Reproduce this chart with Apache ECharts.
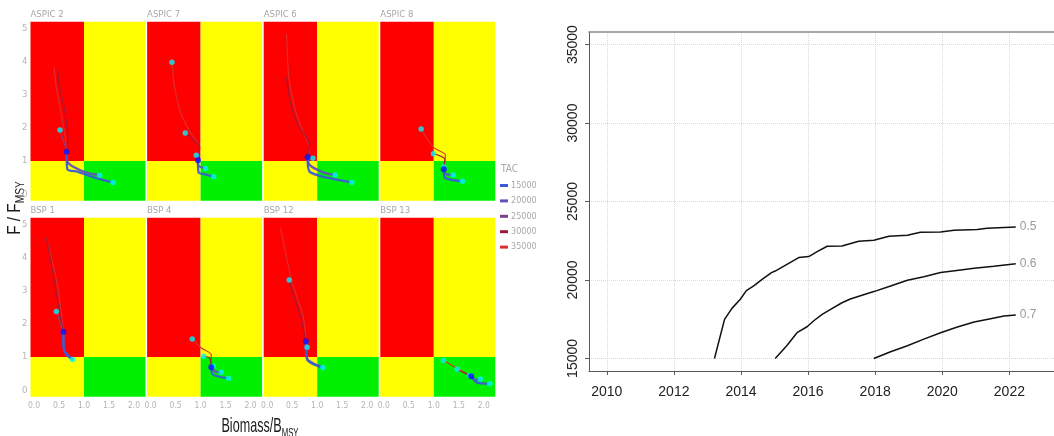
<!DOCTYPE html>
<html>
<head>
<meta charset="utf-8">
<script src="https://cdn.jsdelivr.net/npm/echarts@6/dist/echarts.min.js"></script>
<style>
html,body{margin:0;padding:0;background:#fff}
#chart{width:1054px;height:436px}
</style>
</head>
<body>
<div id="chart"></div>
<script>
// ---- Kobe panels: stock status (B/Bmsy, F/Fmsy) under alternative TACs ----
const panelNames = ['ASPIC 2', 'ASPIC 7', 'ASPIC 6', 'ASPIC 8', 'BSP 1', 'BSP 4', 'BSP 12', 'BSP 13'];
const tacLevels = [15000, 20000, 25000, 30000, 35000];
const tacColors = ['#3b5bd6', '#6152b8', '#7e408c', '#a01838', '#dc2e2e'];
const bTicks = [0, 0.5, 1, 1.5, 2];
const fTicks = [0, 1, 2, 3, 4, 5];

// current status of each model run
const currentStatus = [
  [0.653, 1.28], [0.947, 1.02], [0.807, 1.12], [1.2, 0.75],
  [0.587, 1.76], [1.213, 0.69], [0.773, 1.47], [1.747, 0.416]
];

// projected paths from the current status, one per TAC level (15000 ... 35000)
const pathsAspic2 = [
  [[0.667, 0.75], [0.88, 0.67], [1.213, 0.495], [1.58, 0.35]],
  [[0.667, 0.98], [0.813, 0.8], [1.047, 0.65], [1.313, 0.57]],
  [[0.6, 1.56], [0.52, 1.93]],
  [[0.68, 1.71], [0.613, 2.52], [0.513, 3.22], [0.467, 3.75]],
  [[0.627, 1.71], [0.533, 2.52], [0.447, 3.22], [0.4, 3.83]]
];
const pathsAspic7 = [
  [[0.96, 0.65], [1.08, 0.6], [1.26, 0.52]],
  [[0.96, 0.85], [1.1, 0.77]],
  [[0.913, 1.17]],
  [[0.98, 1.4], [0.813, 1.71], [0.693, 1.84]],
  [[0.98, 1.4], [0.813, 1.81], [0.613, 2.41], [0.48, 3.22], [0.427, 3.98]]
];
const pathsAspic6 = [
  [[0.847, 0.677], [1.2, 0.495], [1.693, 0.354]],
  [[0.847, 0.88], [1.133, 0.646], [1.36, 0.576]],
  [[0.913, 1.08]],
  [[0.847, 1.505], [0.647, 2.01], [0.467, 2.72], [0.387, 3.53]],
  [[0.853, 1.4], [0.733, 1.81], [0.567, 2.52], [0.433, 3.53], [0.387, 4.84]]
];
const pathsAspic8 = [
  [[1.22, 0.495], [1.573, 0.384]],
  [[1.233, 0.616], [1.387, 0.576]],
  [[1.2, 0.82]],
  [[1.22, 1.05], [0.993, 1.22]],
  [[1.233, 1.18], [1.0, 1.4], [0.747, 1.96]]
];
const pathsBsp1 = [
  [[0.593, 1.27], [0.647, 1.07], [0.773, 0.92]],
  [[0.6, 1.22], [0.713, 1.0], [0.74, 0.96]],
  [[0.447, 2.37]],
  [[0.513, 2.33], [0.38, 3.54], [0.247, 4.6]],
  [[0.547, 2.33], [0.447, 3.34], [0.247, 4.6]]
];
const pathsBsp4 = [
  [[1.247, 0.466], [1.56, 0.355]],
  [[1.28, 0.567], [1.413, 0.537]],
  [[1.253, 0.72]],
  [[1.18, 0.97], [1.06, 1.02]],
  [[1.213, 1.07], [1.013, 1.27], [0.833, 1.54]]
];
const pathsBsp12 = [
  [[0.8, 0.92], [0.933, 0.77], [1.113, 0.68]],
  [[0.8, 0.94], [0.967, 0.77], [1.067, 0.72]],
  [[0.8, 1.29]],
  [[0.667, 2.23], [0.533, 2.83], [0.44, 3.32]],
  [[0.72, 2.23], [0.5, 3.24], [0.267, 4.9]]
];
const pathsBsp13 = [
  [[1.867, 0.225], [2.12, 0.194]],
  [[1.833, 0.315], [1.933, 0.315]],
  [[1.713, 0.44]],
  [[1.6, 0.527], [1.467, 0.607]],
  [[1.533, 0.597], [1.193, 0.889]]
];
const panelPaths = [pathsAspic2, pathsAspic7, pathsAspic6, pathsAspic8, pathsBsp1, pathsBsp4, pathsBsp12, pathsBsp13];

// end-of-projection markers
const endMarks = [
  [[0.52, 1.93], [1.313, 0.57], [1.58, 0.35]],
  [[0.427, 3.98], [0.693, 1.84], [0.913, 1.17], [1.1, 0.77], [1.26, 0.52]],
  [[0.913, 1.08], [1.36, 0.576], [1.693, 0.354]],
  [[0.747, 1.96], [0.993, 1.22], [1.2, 0.82], [1.387, 0.576], [1.573, 0.384]],
  [[0.447, 2.37], [0.773, 0.92]],
  [[0.833, 1.54], [1.06, 1.02], [1.253, 0.72], [1.413, 0.537], [1.56, 0.355]],
  [[0.44, 3.32], [0.8, 1.29], [1.113, 0.68]],
  [[1.193, 0.889], [1.467, 0.627], [1.713, 0.44], [1.933, 0.335], [2.12, 0.194]]
];

// ---- TAC needed to reach target probability by year ----
const yearTicks = [2010, 2012, 2014, 2016, 2018, 2020, 2022];
const tacTicks = [15000, 20000, 25000, 30000, 35000];
const probNames = ['0.5', '0.6', '0.7'];
const years05 = [2013.21, 2013.51, 2013.73, 2013.98, 2014.16, 2014.38, 2014.63, 2014.91, 2015.02, 2015.37, 2015.72, 2016.02, 2016.27, 2016.57, 2017.01, 2017.51, 2017.96, 2018.41, 2018.96, 2019.35, 2019.95, 2020.35, 2021.04, 2021.34, 2022.19];
const tac05 = [15000, 17490, 18190, 18770, 19320, 19620, 20040, 20470, 20570, 21000, 21430, 21490, 21810, 22150, 22170, 22470, 22530, 22790, 22850, 23040, 23060, 23170, 23210, 23300, 23380];
const years06 = [2015.02, 2015.37, 2015.67, 2015.97, 2016.17, 2016.42, 2016.67, 2017.01, 2017.26, 2017.56, 2017.96, 2018.46, 2018.96, 2019.45, 2019.95, 2020.55, 2020.95, 2021.54, 2022.19];
const tac06 = [15000, 15830, 16640, 17020, 17400, 17810, 18130, 18550, 18790, 19000, 19260, 19620, 19980, 20210, 20470, 20640, 20750, 20870, 21040];
const years07 = [2017.96, 2018.46, 2018.96, 2019.45, 2019.95, 2020.45, 2020.95, 2021.44, 2021.84, 2022.19];
const tac07 = [15000, 15430, 15810, 16230, 16640, 17000, 17320, 17530, 17700, 17770];

// ---- layout and styling ----
const narrow = "'DejaVu Sans Condensed', 'Liberation Sans Narrow', 'Liberation Sans', sans-serif";
const plain = "'Liberation Sans', Arial, sans-serif";
const zoneColors = ['#ff0000', '#ffff00', '#00f000'];
const bRange = [-0.07, 2.23];
const fRange = [-0.2, 5.2];
const panelLefts = [30.5, 147.1, 263.7, 380.3];
const panelTops = [21.7, 217.7];
const panelW = 115, panelH = 179;

const grids = [], xAxes = [], yAxes = [], series = [], titles = [];

panelNames.forEach((name, i) => {
  const col = i % 4, row = Math.floor(i / 4);
  grids.push({ left: panelLefts[col], top: panelTops[row], width: panelW, height: panelH });
  xAxes.push({
    gridIndex: i, type: 'value', min: bRange[0], max: bRange[1],
    axisLine: { show: false }, axisTick: { show: false }, splitLine: { show: false },
    axisLabel: {
      show: row === 1, customValues: bTicks, formatter: v => v.toFixed(1),
      color: '#b4b4b4', fontSize: 8.5, fontFamily: narrow, margin: 5
    }
  });
  yAxes.push({
    gridIndex: i, type: 'value', min: fRange[0], max: fRange[1],
    axisLine: { show: false }, axisTick: { show: false }, splitLine: { show: false },
    axisLabel: {
      show: col === 0, customValues: fTicks,
      color: '#b4b4b4', fontSize: 9.5, fontFamily: narrow, margin: 3
    }
  });
  titles.push({
    text: name, left: panelLefts[col], top: row === 0 ? 10 : 206, padding: 0,
    textStyle: { color: '#a8a8a8', fontSize: 9.5, fontWeight: 'normal', fontFamily: narrow }
  });

  // Kobe quadrants: overfished+overfishing, yellow, yellow, healthy
  series.push({
    type: 'custom', xAxisIndex: i, yAxisIndex: i, silent: true, z: 1,
    data: [
      [bRange[0], 1, 1, fRange[1], 0],
      [1, 1, bRange[1], fRange[1], 1],
      [bRange[0], fRange[0], 1, 1, 1],
      [1, fRange[0], bRange[1], 1, 2]
    ],
    encode: { x: [0, 2], y: [1, 3] },
    renderItem: (params, api) => {
      const p0 = api.coord([api.value(0), api.value(1)]);
      const p1 = api.coord([api.value(2), api.value(3)]);
      return {
        type: 'rect',
        shape: {
          x: Math.min(p0[0], p1[0]), y: Math.min(p0[1], p1[1]),
          width: Math.abs(p1[0] - p0[0]), height: Math.abs(p1[1] - p0[1])
        },
        style: { fill: zoneColors[api.value(4)] }
      };
    },
    animation: false
  });

  // projected paths, drawn from the highest TAC down so low TACs sit on top
  for (let t = tacLevels.length - 1; t >= 0; t--) {
    series.push({
      type: 'line', name: String(tacLevels[t]), xAxisIndex: i, yAxisIndex: i,
      data: [currentStatus[i]].concat(panelPaths[i][t]),
      showSymbol: false, symbol: 'none', smooth: 0.25, silent: true, z: 3,
      color: tacColors[t],
      itemStyle: { color: tacColors[t] },
      lineStyle: { color: tacColors[t], width: t < 2 ? 2.3 : 1.2, opacity: 0.95 },
      animation: false
    });
  }

  series.push({
    type: 'scatter', name: 'end', xAxisIndex: i, yAxisIndex: i, data: endMarks[i],
    symbolSize: 5.5, itemStyle: { color: '#00f2ff' }, silent: true, z: 4, animation: false
  });
  series.push({
    type: 'scatter', name: 'now', xAxisIndex: i, yAxisIndex: i, data: [currentStatus[i]],
    symbolSize: 6, itemStyle: { color: '#0a10ff' }, silent: true, z: 5, animation: false
  });
});

// ---- right-hand chart ----
const g = panelNames.length;
grids.push({ left: 589, top: 32, right: 0, bottom: 65 });
const yearMin = 2009.47, yearMax = 2023.33;
xAxes.push({
  gridIndex: g, type: 'value', min: yearMin, max: yearMax,
  axisLine: { show: true, onZero: false, lineStyle: { color: '#5a5a5a', width: 1 } },
  axisTick: { show: true, customValues: yearTicks, length: 4, lineStyle: { color: '#5a5a5a' } },
  axisLabel: { customValues: yearTicks, formatter: v => String(v), color: '#222', fontSize: 14, fontFamily: plain, margin: 14 },
  splitLine: { show: true, lineStyle: { type: 'dotted', color: '#d9d9d9' } }
});
xAxes.push({
  gridIndex: g, type: 'value', position: 'top', min: yearMin, max: yearMax,
  axisLine: { show: true, onZero: false, lineStyle: { color: '#8a8a8a', width: 1.5 } },
  axisTick: { show: false }, axisLabel: { show: false }, splitLine: { show: false }
});
yAxes.push({
  gridIndex: g, type: 'value', min: 14200, max: 35800,
  axisLine: { show: true, onZero: false, lineStyle: { color: '#5a5a5a', width: 1 } },
  axisTick: { show: true, customValues: tacTicks, length: 4, lineStyle: { color: '#5a5a5a' } },
  axisLabel: { customValues: tacTicks, formatter: v => String(v), rotate: 90, color: '#222', fontSize: 14, fontFamily: plain, margin: 9 },
  splitLine: { show: true, lineStyle: { type: 'dotted', color: '#d9d9d9' } }
});

const probYears = [years05, years06, years07];
const probTacs = [tac05, tac06, tac07];
probNames.forEach((p, k) => {
  series.push({
    type: 'line', name: p, xAxisIndex: g, yAxisIndex: g,
    data: probYears[k].map((y, j) => [y, probTacs[k][j]]),
    showSymbol: false, symbol: 'none', silent: true, z: 3,
    lineStyle: { color: '#111', width: 1.5 },
    itemStyle: { color: '#111' },
    endLabel: {
      show: true, formatter: p, color: '#9a9a9a', fontSize: 12, fontFamily: plain, distance: 4
    },
    animation: false
  });
});

titles.push({
  text: 'TAC', left: 501, top: 164, padding: 0,
  textStyle: { color: '#a8a8a8', fontSize: 10, fontWeight: 'normal', fontFamily: narrow }
});

const chart = echarts.init(document.getElementById('chart'), null, { renderer: 'canvas' });
chart.setOption({
  backgroundColor: '#ffffff',
  animation: false,
  title: titles,
  grid: grids,
  xAxis: xAxes,
  yAxis: yAxes,
  legend: {
    data: tacLevels.map(String), orient: 'vertical', left: 500, top: 180, padding: 0,
    icon: 'rect', itemWidth: 8, itemHeight: 3, itemGap: 4.4, selectedMode: false,
    textStyle: { color: '#a8a8a8', fontSize: 9, fontFamily: narrow, lineHeight: 11, padding: [0, 0, 0, -2] }
  },
  graphic: [
    {
      type: 'text', x: 15, y: 208, rotation: Math.PI / 2, scaleX: 0.85, silent: true,
      style: {
        text: '{a|F / F}{s|MSY}', align: 'center', verticalAlign: 'middle',
        rich: {
          a: { fontSize: 18, fontFamily: plain, fill: '#1a1a1a', lineHeight: 24 },
          s: { fontSize: 12, fontFamily: plain, fill: '#1a1a1a', lineHeight: 12, verticalAlign: 'bottom' }
        }
      }
    },
    {
      type: 'text', x: 260, y: 426, scaleX: 0.6, silent: true,
      style: {
        text: '{a|Biomass/B}{s|MSY}', align: 'center', verticalAlign: 'middle',
        rich: {
          a: { fontSize: 21, fontFamily: plain, fill: '#1a1a1a', lineHeight: 28 },
          s: { fontSize: 13, fontFamily: plain, fill: '#1a1a1a', lineHeight: 13, verticalAlign: 'bottom' }
        }
      }
    }
  ],
  series: series
});
</script>
</body>
</html>
